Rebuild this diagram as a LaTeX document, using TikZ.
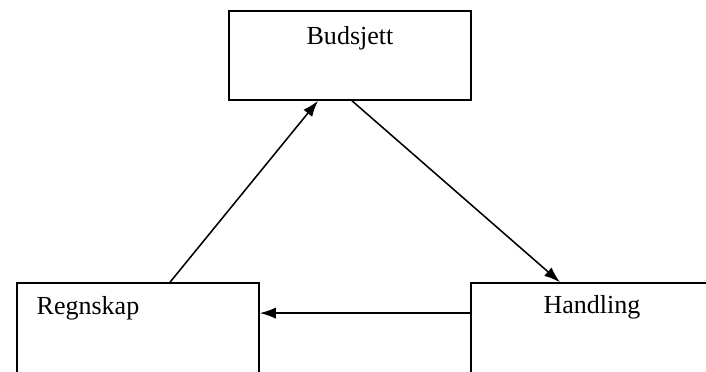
\documentclass[tikz,border=0pt]{standalone}
\usepackage{fontspec}
\setmainfont{Liberation Serif}
\usepackage{tikz}
\usetikzlibrary{arrows.meta}

\begin{document}
\begin{tikzpicture}[x=0.025cm,y=-0.025cm]

  \tikzset{BOX/.style={draw, line width=1.1pt, inner sep=0pt}}
  \tikzset{TXT/.style={font=\fontsize{18.5}{22}\selectfont, inner sep=0pt}}
  \tikzset{LNK/.style={-{Latex[length=0.4cm,width=0.28cm]}, line width=1.1pt}}

  \useasboundingbox (0,0) rectangle (706,371);
  \clip (0,0) rectangle (706,371);

  \node[BOX, minimum width=6.05cm, minimum height=2.225cm] (budsjett) at (350,55.5) {};
  \node[BOX, minimum width=6.05cm, minimum height=2.925cm] (regnskap) at (138,341.5) {};
  \node[BOX, minimum width=6.85cm, minimum height=2.925cm] (handling) at (608,341.5) {};

  \node[TXT] (tb) at (350,38) {Budsjett};
  \node[TXT] (tr) at (88,308) {Regnskap};
  \node[TXT] (th) at (592,307) {Handling};

  \coordinate (hw) at ([yshift=0.71cm]handling.west);

  \draw[LNK] ([xshift=0.8cm]regnskap.north) -- ([xshift=-0.8cm]budsjett.south);
  \draw[LNK] ([xshift=0.05cm]budsjett.south) -- ([xshift=-1.2cm]handling.north);
  \draw[LNK] (hw) -- (regnskap.east |- hw);
\end{tikzpicture}
\end{document}
